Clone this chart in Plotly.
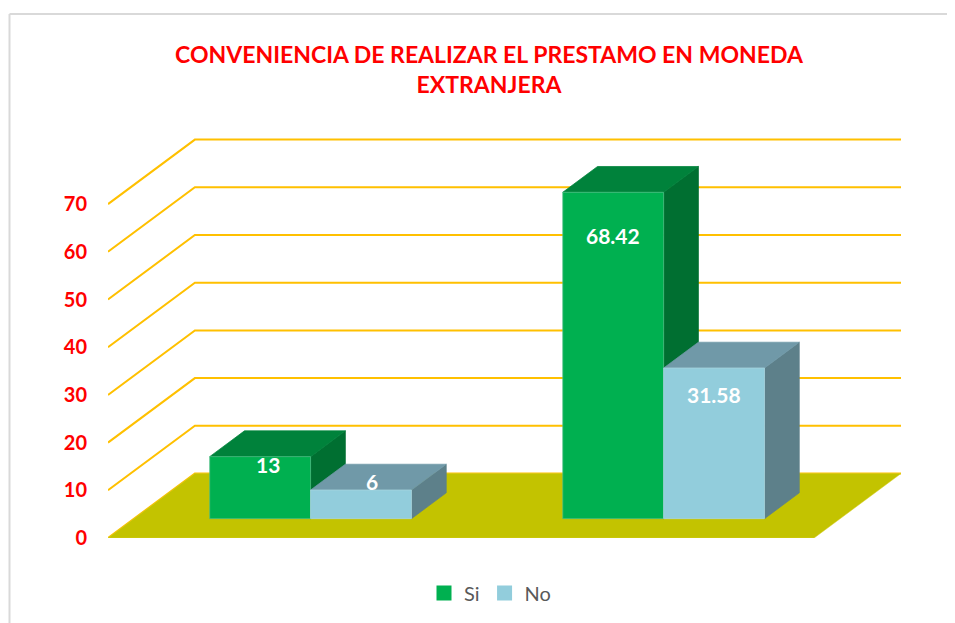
import plotly.graph_objects as go

# ---- data
categories = ["Grupo 1", "Grupo 2"]
si_values = [13, 68.42]
no_values = [6, 31.58]
si_labels = ["13", "68.42"]
no_labels = ["6", "31.58"]
y_ticks = [0, 10, 20, 30, 40, 50, 60, 70]
title_text = "CONVENIENCIA DE REALIZAR EL PRESTAMO EN MONEDA<br>EXTRANJERA"

# ---- styling / oblique projection settings
PAGE = 8                     # the page's default body margin
W, H = 955 - PAGE, 623 - PAGE
M_L, M_R, M_T, M_B = 108 - PAGE, 54, 131 - PAGE, 85
PX_PER_VALUE = 4.77          # vertical pixels per y unit
PX_PER_CAT = 353.5           # horizontal pixels per category
DEPTH_X = 87 / PX_PER_CAT    # oblique shift of the back wall, x units
DEPTH_Y = 64.5 / PX_PER_VALUE  # oblique shift of the back wall, y units
BAR_W = 1 / 3.5              # two bars and a 150 % gap
BAR_D0, BAR_D1 = 0.3, 0.7    # bar depth inside the floor

RED = "#FF0000"
GRID = "#FFC000"
FLOOR = "#C3C300"
FONT = "Lato"
SI_COL = dict(front="#00B050", top="#00823B", side="#006F31", edge="#4DBF85")
NO_COL = dict(front="#92CDDC", top="#7099A8", side="#5D808A", edge="#A9D5E0")
# label offsets (px) from the top-centre of each bar's front face
SI_SHIFT = [(8, -8), (0, -43)]
NO_SHIFT = [(11, 9), (0, -26)]


def proj(x, v, d):
    """Oblique projection of (category position, value, depth fraction)."""
    return x + d * DEPTH_X, v + d * DEPTH_Y


def face(points, color, edge=None, edge_width=0.75):
    pts = [proj(*p) for p in points]
    pts.append(pts[0])
    return go.Scatter(
        x=[p[0] for p in pts], y=[p[1] for p in pts], mode="lines", fill="toself",
        fillcolor=color, line=dict(color=edge or color, width=edge_width),
        showlegend=False, hoverinfo="skip",
    )


fig = go.Figure()
n = len(categories)

# gridlines: front-left -> back-left -> back-right
for t in y_ticks:
    a, b, c = proj(0, t, 0), proj(0, t, 1), proj(n, t, 1)
    fig.add_trace(go.Scatter(
        x=[a[0], b[0], c[0]], y=[a[1], b[1], c[1]], mode="lines",
        line=dict(color=GRID, width=2), showlegend=False, hoverinfo="skip",
    ))

# floor
fig.add_trace(face([(0, 0, 0), (0, 0, 1), (n, 0, 1), (n, 0, 0)], FLOOR, "#D8CC20", 0.5))


def bar(x0, value, col):
    x1 = x0 + BAR_W
    d0, d1 = BAR_D0, BAR_D1
    fig.add_trace(face([(x1, 0, d0), (x1, 0, d1), (x1, value, d1), (x1, value, d0)], col["side"], col["side"]))
    fig.add_trace(face([(x0, value, d0), (x0, value, d1), (x1, value, d1), (x1, value, d0)], col["top"], col["top"]))
    fig.add_trace(face([(x0, 0, d0), (x1, 0, d0), (x1, value, d0), (x0, value, d0)], col["front"], col["edge"]))


annotations = []


def label(x0, value, text, shift):
    px, py = proj(x0 + BAR_W / 2, value, BAR_D0)
    annotations.append(dict(
        x=px, y=py, xref="x", yref="y", text=text, showarrow=False,
        xshift=shift[0], yshift=shift[1], xanchor="center", yanchor="middle",
        font=dict(family=FONT, size=21, color="#FFFFFF", weight="bold"),
    ))


for i in range(n):
    x_si = i + 0.5 - BAR_W
    x_no = i + 0.5
    bar(x_si, si_values[i], SI_COL)
    bar(x_no, no_values[i], NO_COL)
    label(x_si, si_values[i], si_labels[i], SI_SHIFT[i])
    label(x_no, no_values[i], no_labels[i], NO_SHIFT[i])

# legend entries
for name, col in (("Si", SI_COL), ("No", NO_COL)):
    fig.add_trace(go.Scatter(
        x=[None], y=[None], mode="markers", name=name,
        marker=dict(symbol="square", size=15, color=col["front"]),
    ))

plot_w = W - M_L - M_R
plot_h = H - M_T - M_B


def paper_x(px):
    return (px - PAGE - M_L) / plot_w


def paper_y(py):
    return (H - M_B - (py - PAGE)) / plot_h


# chart-area border (left and top)
border = dict(color="#D9D9D9", width=2)
shapes = [
    dict(type="line", xref="paper", yref="paper", x0=paper_x(9.5), x1=paper_x(9.5),
         y0=paper_y(14), y1=paper_y(623), line=border),
    dict(type="line", xref="paper", yref="paper", x0=paper_x(9.5), x1=paper_x(955),
         y0=paper_y(14), y1=paper_y(14), line=border),
]

fig.update_layout(
    width=W, height=H,
    margin=dict(l=M_L, r=M_R, t=M_T, b=M_B, autoexpand=False),
    paper_bgcolor="#FFFFFF", plot_bgcolor="rgba(0,0,0,0)",
    title=dict(
        text=title_text, x=(489 - PAGE) / W, xanchor="center",
        y=1 - (63 - PAGE) / H, yanchor="middle",
        font=dict(family=FONT, size=23, color=RED, weight="bold"),
    ),
    xaxis=dict(range=[0, n + DEPTH_X], visible=False, fixedrange=True),
    yaxis=dict(
        range=[0, plot_h / PX_PER_VALUE], tickvals=y_ticks, ticktext=[str(t) for t in y_ticks],
        showgrid=False, zeroline=False, showline=False, ticks="", ticklabelstandoff=20,
        tickfont=dict(family=FONT, size=20, color=RED, weight="bold"), fixedrange=True,
    ),
    legend=dict(
        orientation="h", x=(490 - PAGE) / W, xref="container", xanchor="center",
        y=1 - (593 - PAGE) / H, yref="container", yanchor="middle",
        font=dict(family=FONT, size=20, color="#595959"), itemwidth=30,
        bgcolor="rgba(0,0,0,0)",
    ),
    annotations=annotations,
    shapes=shapes,
)

fig.write_html("out.html", config=dict(displayModeBar=False), default_width=f"{W}px", default_height=f"{H}px")
